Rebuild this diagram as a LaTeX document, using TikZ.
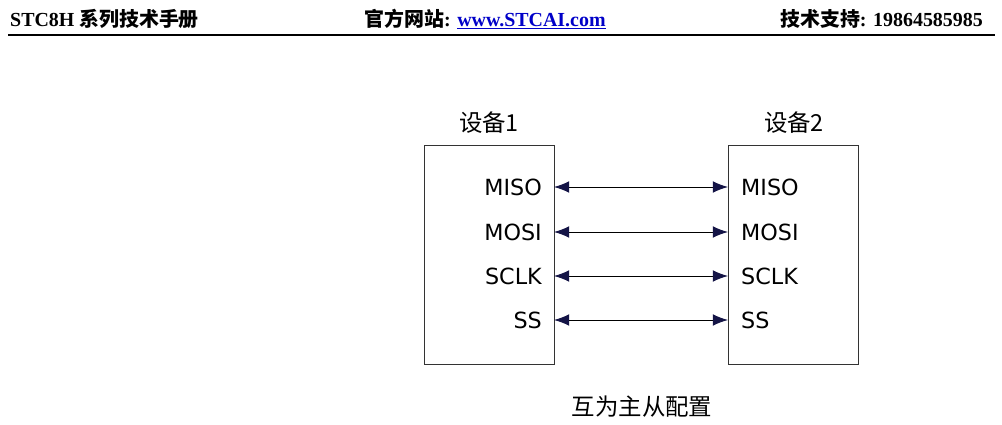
\documentclass[tikz,border=0pt]{standalone}
\usepackage{fontspec}
\setmainfont{Liberation Serif}
\newfontfamily\cjk{Noto Sans CJK SC}
\newfontfamily\verd{DejaVu Sans}
\usetikzlibrary{arrows.meta}
\definecolor{navy}{RGB}{20,20,70}
\definecolor{linkblue}{RGB}{0,0,200}
\tikzset{x=0.03cm,y=-0.03cm,
 pin/.style={font=\verd\fontsize{19}{19}\selectfont,inner sep=0pt},
 cjklabel/.style={font=\cjk\fontsize{20}{20}\selectfont},
 link/.style={line width=0.8pt,{Latex[length=13pt,width=10pt,color=navy]}-{Latex[length=13pt,width=10pt,color=navy]}},
 hdr/.style={font=\bfseries\fontsize{17}{17}\selectfont,inner sep=0pt}}
\begin{document}
\begin{tikzpicture}
\useasboundingbox (0,0) rectangle (1002,425);
\node[hdr,anchor=west] (h1) at (10,19) {STC8H {\cjk\bfseries 系列技术手册}};
\node[hdr] (h2) at (485,19) {{\cjk\bfseries 官方网站}: \textcolor{linkblue}{\underline{www.STCAI.com}}};
\node[hdr,anchor=east] (h3) at (983,19) {{\cjk\bfseries 技术支持}: 19864585985};
\draw[line width=2.2pt] (8,35) -- (995,35);
\node[draw=black!80,line width=0.6pt,minimum width=130*0.03cm,minimum height=219*0.03cm,anchor=north west,inner sep=0pt] (b1) at (424,145) {};
\node[draw=black!80,line width=0.6pt,minimum width=130*0.03cm,minimum height=219*0.03cm,anchor=north west,inner sep=0pt] (b2) at (728,145) {};
\node[cjklabel] (t1) at (489,123) {设备1};
\node[cjklabel] (t2) at (794,123) {设备2};
\foreach \n/\y in {MISO/187,MOSI/232,SCLK/276,SS/320}{
 \coordinate (l\n) at (554,\y);
 \coordinate (r\n) at (728,\y);
 \node[pin,anchor=east] (p1\n) at (542,\y) {\n};
 \node[pin,anchor=west] (p2\n) at (741,\y) {\n};
 \draw[link] (l\n) -- (r\n);
}
\node[cjklabel] (capt) at (642,407) {互为主从配置};
\end{tikzpicture}
\end{document}
